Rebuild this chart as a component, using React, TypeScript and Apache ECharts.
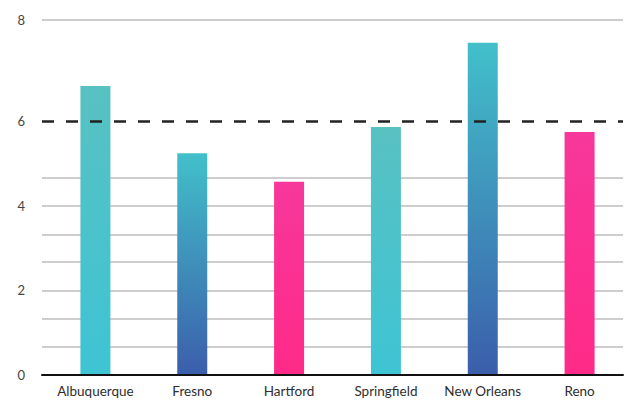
import React, { useEffect, useRef } from "react";
import * as echarts from "echarts";

const categories = ["Albuquerque", "Fresno", "Hartford", "Springfield", "New Orleans", "Reno"];
const values = [6.84, 5.25, 4.57, 5.87, 7.86, 5.75];
const topColors = ["#58c1c2", "#42c0ca", "#f7379b", "#58c1c2", "#42c0ca", "#f7379b"];
const bottomColors = ["#3ec4d4", "#3b5eab", "#ff2a88", "#3ec4d4", "#3b5eab", "#ff2a88"];
const yTickValues = [0, 2, 4, 6, 8.4];
const yTickLabels = ["0", "2", "4", "6", "8"];
const gridLineValues = [0.667, 1.333, 2, 2.667, 3.333, 4, 4.667, 8.4];
const referenceValue = 6;
const yMax = 8.4;

export default function App() {
  const ref = useRef<HTMLDivElement>(null);
  useEffect(() => {
    if (!ref.current) return;
    const chart = echarts.init(ref.current, null, { renderer: "svg" });
    chart.setOption({
      animation: false,
      grid: [
        { left: 42, right: 5, top: 20, bottom: 29 },
        { left: 47, right: -22, top: 20, bottom: 29 },
      ],
      xAxis: [
        {
          type: "category",
          gridIndex: 0,
          data: [""],
          z: 10,
          axisLine: { show: true, lineStyle: { color: "#111", width: 2 } },
          axisTick: { show: false },
          axisLabel: { show: false },
        },
        {
          type: "category",
          gridIndex: 1,
          data: categories,
          axisLine: { show: false },
          axisTick: { show: false },
          axisLabel: {
            interval: 0,
            hideOverlap: false,
            color: "#2e2e2e",
            fontFamily: "Lato",
            fontSize: 13.5,
            margin: 9,
          },
        },
      ],
      yAxis: [
        {
          type: "value",
          gridIndex: 0,
          min: 0,
          max: yMax,
          axisLine: { show: false },
          axisTick: { show: false },
          splitLine: { show: false },
          axisLabel: {
            customValues: yTickValues,
            formatter: (v: number) => {
              const i = yTickValues.findIndex((t) => Math.abs(t - v) < 1e-6);
              return i >= 0 ? yTickLabels[i] : "";
            },
            color: "#444",
            fontFamily: "Lato",
            fontSize: 13,
            margin: 17,
          },
        },
        {
          type: "value",
          gridIndex: 1,
          min: 0,
          max: yMax,
          show: false,
          splitLine: { show: false },
        },
      ],
      series: [
        {
          type: "line",
          xAxisIndex: 0,
          yAxisIndex: 0,
          data: [],
          z: 1,
          markLine: {
            silent: true,
            z: 1,
            symbol: "none",
            label: { show: false },
            lineStyle: { color: "#bdbdbd", width: 1.5, type: "solid" },
            data: gridLineValues.map((v) => ({ yAxis: v })),
          },
        },
        {
          type: "bar",
          xAxisIndex: 1,
          yAxisIndex: 1,
          barWidth: 30,
          z: 3,
          data: values.map((v, i) => ({
            value: v,
            itemStyle: {
              color: new echarts.graphic.LinearGradient(0, 0, 0, 1, [
                { offset: 0, color: topColors[i] },
                { offset: 1, color: bottomColors[i] },
              ]),
            },
          })),
        },
        {
          type: "line",
          xAxisIndex: 0,
          yAxisIndex: 0,
          data: [],
          z: 5,
          markLine: {
            silent: true,
            z: 6,
            symbol: "none",
            label: { show: false },
            lineStyle: { color: "#222", width: 2.5, type: [12, 12] },
            data: [{ yAxis: referenceValue }],
          },
        },
      ],
    });
    return () => chart.dispose();
  }, []);
  return <div ref={ref} style={{ width: 628, height: 404, position: "absolute", left: 0, top: 0, background: "#fff" }} />;
}
